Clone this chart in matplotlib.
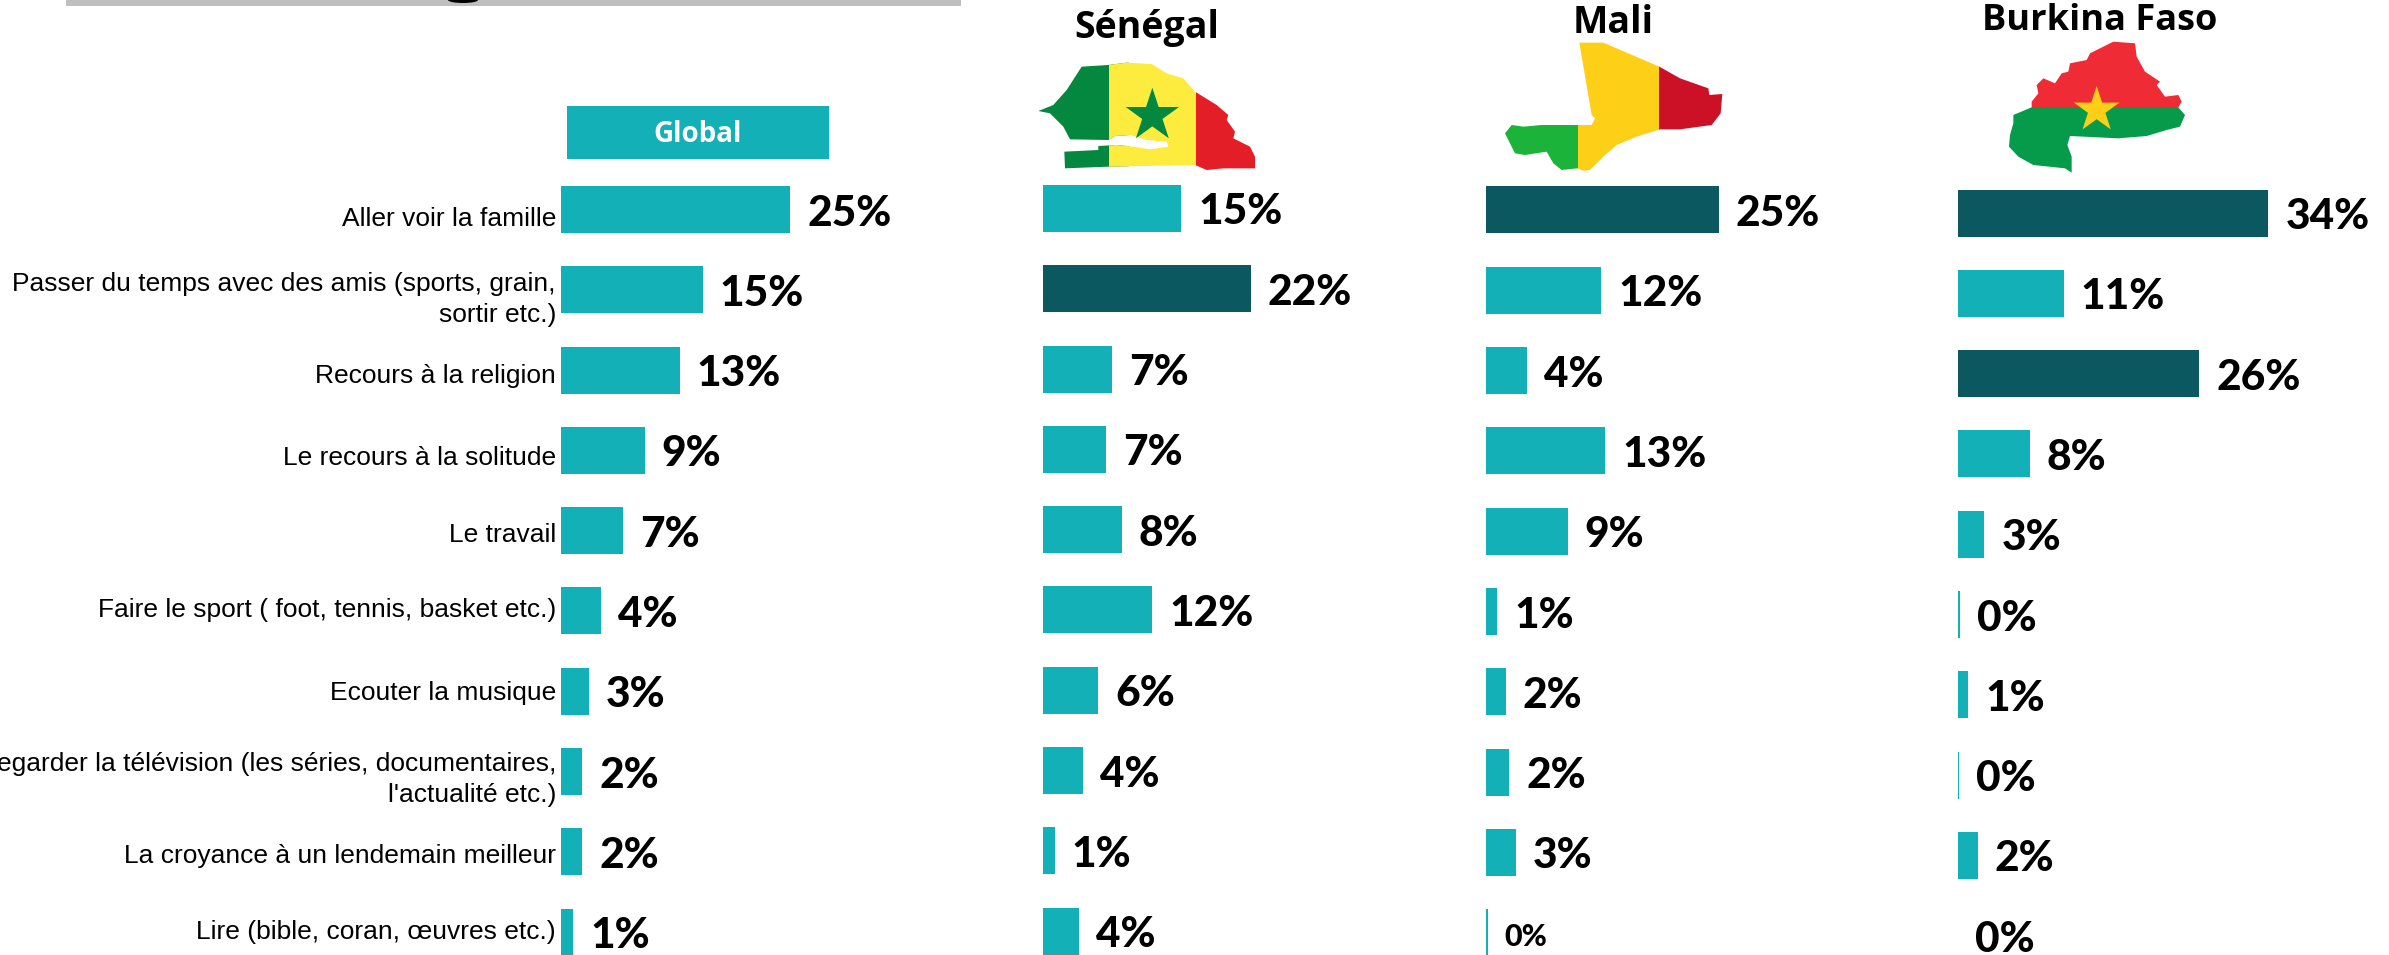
import matplotlib
matplotlib.use("Agg")
import matplotlib.pyplot as plt
from matplotlib.patches import Polygon, Rectangle, Ellipse
import numpy as np

categories = [
    "Aller voir la famille",
    "Passer du temps avec des amis (sports, grain,\nsortir etc.)",
    "Recours à la religion",
    "Le recours à la solitude",
    "Le travail",
    "Faire le sport ( foot, tennis, basket etc.)",
    "Ecouter la musique",
    "Regarder la télévision (les séries, documentaires,\nl'actualité etc.)",
    "La croyance à un lendemain meilleur",
    "Lire (bible, coran, œuvres etc.)",
]
global_values = [24.9, 15.4, 12.9, 9.1, 6.7, 4.3, 3.0, 2.3, 2.3, 1.3]
senegal_values = [14.8, 22.3, 7.4, 6.7, 8.4, 11.7, 5.9, 4.3, 1.2, 3.8]
mali_values = [25.05, 12.4, 4.4, 12.8, 8.8, 1.2, 2.1, 2.5, 3.2, 0.2]
burkina_values = [34.1, 11.6, 26.5, 7.9, 2.9, 0.27, 1.1, 0.13, 2.15, 0.0]
global_labels = ["25%", "15%", "13%", "9%", "7%", "4%", "3%", "2%", "2%", "1%"]
senegal_labels = ["15%", "22%", "7%", "7%", "8%", "12%", "6%", "4%", "1%", "4%"]
mali_labels = ["25%", "12%", "4%", "13%", "9%", "1%", "2%", "2%", "3%", "0%"]
burkina_labels = ["34%", "11%", "26%", "8%", "3%", "0%", "1%", "0%", "2%", "0%"]
senegal_dark = [1]
mali_dark = [0]
burkina_dark = [0, 2]

W, H = 2389, 955
TEAL, DARK = "#13B0B8", "#0B5860"
PITCH, BAR_PX = 80.3, 47
LABEL_NUDGE = [9, 10, 6, 8, 4, -1, 2, 8, 4, 0]

fig = plt.figure(figsize=(W / 100, H / 100), dpi=100, facecolor="white")


def panel(values, labels, dark, left, scale, c0, small=()):
    width = 600
    ax = fig.add_axes([left / W, 0, width / W, 1])
    ax.set_xlim(0, width / scale)
    ax.set_ylim((H - c0) / PITCH, (0 - c0) / PITCH)
    ax.axis("off")
    ax.patch.set_alpha(0)
    y = np.arange(len(values))
    colors = [DARK if i in dark else TEAL for i in y]
    ax.barh(y, values, height=BAR_PX / PITCH, color=colors, linewidth=0)
    for i, (v, t) in enumerate(zip(values, labels)):
        ax.annotate(t, (v, i), xytext=(17, -4), textcoords="offset pixels",
                    ha="left", va="center", family="Lato", weight="black",
                    fontsize=22 if i in small else 30.5, color="black",
                    annotation_clip=False)
    return ax


ax_g = panel(global_values, global_labels, [], 561, 9.2, 209.5)
panel(senegal_values, senegal_labels, senegal_dark, 1043.4, 9.3, 208.5)
panel(mali_values, mali_labels, mali_dark, 1486, 9.3, 210, small=(9,))
panel(burkina_values, burkina_labels, burkina_dark, 1958, 9.1, 213)

for i, name in enumerate(categories):
    ax_g.annotate(name, (0, i), xytext=(-5, -LABEL_NUDGE[i]), textcoords="offset pixels",
                  ha="right", va="center", family="Liberation Sans", fontsize=19,
                  linespacing=1.36, color="black", annotation_clip=False)

# Overlay in pixel coordinates for header furniture
ov = fig.add_axes([0, 0, 1, 1])
ov.set_xlim(0, W)
ov.set_ylim(H, 0)
ov.axis("off")
ov.patch.set_alpha(0)

ov.add_patch(Rectangle((66, -2), 895, 8, color="#BFBFBF", lw=0))
ov.add_patch(Ellipse((463, 0), 30, 6, color="black", lw=0))
ov.add_patch(Rectangle((567, 106), 262, 53, color=TEAL, lw=0))
ov.text(698, 135, "Global", ha="center", va="center", color="white",
        family="Open Sans", weight="bold", fontsize=20)
for x, y, t, s in [(1147, 28, "Sénégal", 27), (1613, 23, "Mali", 27), (2100, 21, "Burkina Faso", 26)]:
    ov.text(x, y, t, ha="center", va="center", color="black",
            family="Open Sans", weight="bold", fontsize=s)


def to_px(pts, x0, y0):
    return [(x0 + u / 3, y0 + v / 3) for u, v in pts]


def star(cx, cy, r, color):
    pts = []
    for k in range(10):
        a = -np.pi / 2 + k * np.pi / 5
        rad = r if k % 2 == 0 else r * 0.382
        pts.append((cx + rad * np.cos(a), cy + rad * np.sin(a)))
    ov.add_patch(Polygon(pts, closed=True, color=color, lw=0, zorder=5))


def flag(outline, stripes):
    clip = Polygon(outline, closed=True, transform=ov.transData)
    for (x, y, w, h, c) in stripes:
        r = Rectangle((x, y), w, h, color=c, lw=0)
        ov.add_patch(r)
        r.set_clip_path(clip)


sen = to_px([(55,183),(100,165),(140,120),(185,50),(265,45),(320,38),(395,42),(440,70),(490,85),
             (525,125),(590,165),(625,195),(620,210),(645,245),(640,265),(690,290),(705,320),(705,355),
             (610,355),(560,360),(525,345),(265,350),(135,355),(133,305),(235,300),(235,288),(290,285),
             (340,290),(390,298),(445,290),(440,275),(380,270),(330,255),(285,258),(265,270),(150,268),
             (130,230),(90,190)], 1020, 50)
flag(sen, [(1030, 50, 98.5, 130, "#04873E"), (1108.5, 50, 87, 130, "#FDEC3E"), (1195.5, 50, 60, 130, "#E41E26")])
star(1020 + 397 / 3, 50 + 197 / 3, 28, "#04873E")

mali = to_px([(268,38),(340,38),(508,110),(570,145),(655,175),(658,195),(697,192),(692,250),(665,285),
              (570,298),(510,298),(440,320),(380,345),(340,380),(300,420),(280,422),(262,415),(215,420),
              (190,400),(170,365),(105,375),(75,370),(45,310),(65,285),(100,290),(155,285),(305,285),
              (315,265),(305,255)], 1490, 30)
flag(mali, [(1490, 30, 87.5, 150, "#1BB33A"), (1577.5, 30, 82, 150, "#FDCF16"), (1659.3, 30, 90, 150, "#CC1126")])

bf = to_px([(370,35),(435,40),(440,80),(465,125),(510,155),(500,165),(525,200),(565,195),(575,215),
            (565,232),(585,255),(570,290),(530,300),(470,318),(385,325),(240,318),(232,345),(245,380),
            (245,428),(225,415),(130,405),(85,380),(57,350),(60,315),(70,280),(70,255),(125,232),(125,215),
            (145,190),(140,165),(160,145),(195,160),(215,130),(235,125),(240,100),(290,90),(300,70)], 1990, 30)
flag(bf, [(1990, 30, 220, 77.3, "#EF2B36"), (1990, 107.3, 220, 70, "#059B4A")])
star(1990 + 320 / 3, 30 + 240 / 3, 24, "#FDCF16")

fig.savefig("out.png", dpi=100, facecolor="white")
